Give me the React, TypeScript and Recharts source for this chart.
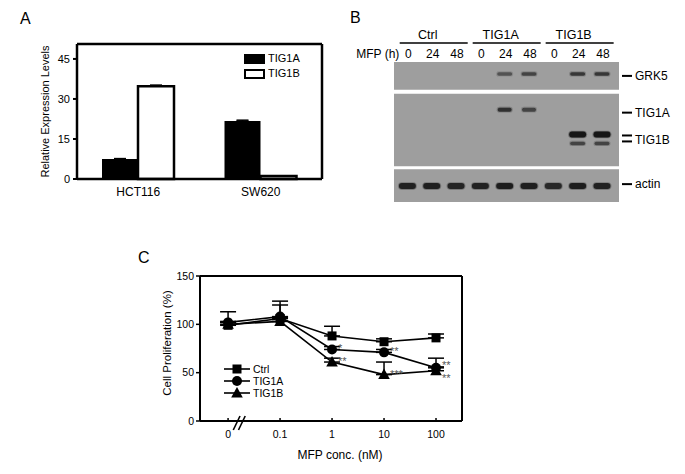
import React from 'react';
import {
  BarChart, Bar, XAxis, YAxis, ErrorBar, Legend, LineChart, Line,
  ScatterChart, Scatter, ReferenceArea, ReferenceLine, LabelList,
} from 'recharts';

const FONT = 'Arial, "Liberation Sans", Helvetica, sans-serif';

// ---------- Panel A data ----------
const cellLines = ['HCT116', 'SW620'];
const tig1aExpr = [7.5, 21.7];
const tig1aExprErr = [0.15, 0.35];
const tig1bExpr = [34.8, 1.1];
const tig1bExprErr = [0.4, 0.05];
const exprTicks = [0, 15, 30, 45];
const exprSeries = ['TIG1A', 'TIG1B'];

// ---------- Panel B data ----------
const laneNumbers = [1, 2, 3, 4, 5, 6, 7, 8, 9];
const hourLabels = ['0', '24', '48', '0', '24', '48', '0', '24', '48'];
const groupNames = ['Ctrl', 'TIG1A', 'TIG1B'];
const groupCenterLanes = [2, 5, 8];
const grk5Intensity = [0, 0, 0, 0, 0.45, 0.55, 0, 0.7, 0.7];
const tig1aIntensity = [0, 0, 0, 0, 0.75, 0.6, 0, 0, 0];
const tig1bUpperIntensity = [0, 0, 0, 0, 0, 0, 0, 1, 1];
const tig1bLowerIntensity = [0, 0, 0, 0, 0, 0, 0, 0.55, 0.55];
const actinIntensity = [0.88, 0.9, 0.86, 0.88, 0.92, 0.9, 0.82, 0.92, 0.88];
const bandRowGrk5 = 12;
const bandRowTig1a = 48;
const bandRowTig1bUpper = 73;
const bandRowTig1bLower = 82;
const bandRowActin = 125;
const blotPanelRanges = [[0, 28], [32, 105], [108, 141]];
const markerRows = [14, 51, 74, 78, 80, 123];
const markerLabels = ['GRK5', 'TIG1A', '', 'TIG1B', '', 'actin'];
const markerDash = [true, true, true, false, true, true];

// ---------- Panel C data ----------
const concLabels = ['0', '0.1', '1', '10', '100'];
const concIndex = [0, 1, 2, 3, 4];
const ctrlProlif = [99, 106, 88, 82, 86];
const ctrlProlifErr = [3, 14, 10, 3, 4];
const tig1aProlif = [102, 108, 74, 71, 55];
const tig1aProlifErr = [11, 16, 3, 3, 10];
const tig1bProlif = [100, 103, 61, 48, 52];
const tig1bProlifErr = [3, 4, 4, 13, 4];
const tig1aSig = ['', '', '*', '**', '**'];
const tig1bSig = ['', '', '**', '***', '**'];
const prolifTicks = [0, 50, 100, 150];
const prolifSeries = ['Ctrl', 'TIG1A', 'TIG1B'];

// ---------- built tables ----------
const exprData = cellLines.map((c, i) => ({
  cat: c,
  a: tig1aExpr[i],
  aErr: [0, tig1aExprErr[i]],
  b: tig1bExpr[i],
  bErr: [0, tig1bExprErr[i]],
}));

const bandData = (vals: number[], row: number) =>
  laneNumbers.map((l, i) => ({ lane: l, row, v: vals[i] })).filter((d) => d.v > 0);

const prolifData = concIndex.map((x, i) => ({
  i: x,
  ctrl: ctrlProlif[i],
  ctrlE: [0, ctrlProlifErr[i]],
  a: tig1aProlif[i],
  aE: [0, tig1aProlifErr[i]],
  aSig: tig1aSig[i],
  b: tig1bProlif[i],
  bE: [0, tig1bProlifErr[i]],
  bSig: tig1bSig[i],
}));

// ---------- helpers ----------
const LegendA = () => (
  <div style={{ fontFamily: FONT, fontSize: 11, lineHeight: '15px' }}>
    {exprSeries.map((s, i) => (
      <div key={s} style={{ display: 'flex', alignItems: 'center', height: 15 }}>
        <div
          style={{
            width: 21,
            height: 10,
            boxSizing: 'border-box',
            background: i === 0 ? '#000' : '#fff',
            border: '2px solid #000',
            marginRight: 3,
          }}
        />
        <span>{s}</span>
      </div>
    ))}
  </div>
);

const markerShape = (k: number, cx: number, cy: number) => {
  if (k === 0) return <rect x={cx - 4.5} y={cy - 4.5} width={9} height={9} fill="#000" />;
  if (k === 1) return <circle cx={cx} cy={cy} r={5} fill="#000" />;
  return <polygon points={`${cx},${cy - 6} ${cx + 5.8},${cy + 4.5} ${cx - 5.8},${cy + 4.5}`} fill="#000" />;
};

const LegendC = () => (
  <div style={{ fontFamily: FONT, fontSize: 10.5 }}>
    {prolifSeries.map((s, k) => (
      <div key={s} style={{ display: 'flex', alignItems: 'center', height: 12 }}>
        <svg width={26} height={12} style={{ marginRight: 3 }}>
          <line x1={0} x2={26} y1={6} y2={6} stroke="#000" strokeWidth={1.6} />
          {markerShape(k, 13, 6)}
        </svg>
        <span>{s}</span>
      </div>
    ))}
  </div>
);

const makeDot = (k: number) => (p: any) => (
  <g key={`d${k}-${p.index}`}>{markerShape(k, p.cx, p.cy)}</g>
);

// significance labels: nudge apart when the two treated series sit close together
const makeSigLabel = (series: 'a' | 'b') => (p: any) => {
  if (!p.value) return null;
  const i = p.index;
  const close = Math.abs(tig1aProlif[i] - tig1bProlif[i]) < 8;
  let dy = -4;
  if (close) dy = series === 'a' ? -6 : 4;
  return (
    <text x={p.x + 6} y={p.y + dy + 7} fontSize={11} fill="#555" fontFamily={FONT}>
      {p.value}
    </text>
  );
};

const makeBand = (w: number, h: number) => (p: any) => {
  const { cx, cy, payload } = p;
  const op = payload.v;
  return (
    <g>
      <defs>
        <filter id="bandBlur" x="-30%" y="-100%" width="160%" height="300%">
          <feGaussianBlur stdDeviation="0.7" />
        </filter>
      </defs>
      <g filter="url(#bandBlur)">
        <rect x={cx - w / 2 - 1} y={cy - h / 2 - 0.8} width={w + 2} height={h + 1.6} rx={(h + 1.6) / 2} fill="#333" opacity={op * 0.4} />
        <rect x={cx - w / 2} y={cy - h / 2} width={w} height={h} rx={h / 2} fill="#141414" opacity={op} />
      </g>
    </g>
  );
};

const LaneTick = (p: any) => {
  const { x, y, payload } = p;
  const lane = payload.value;
  const gi = groupCenterLanes.indexOf(lane);
  return (
    <g fontFamily={FONT} fill="#000">
      <text x={x + 1} y={y - 4.5} textAnchor="middle" fontSize={12}>{hourLabels[lane - 1]}</text>
      {lane === 1 && (
        <text x={x - 8} y={y - 4.5} textAnchor="end" fontSize={12}>MFP (h)</text>
      )}
      {gi >= 0 && (
        <g>
          <text x={x - 4} y={y - 23} textAnchor="middle" fontSize={12.5}>{groupNames[gi]}</text>
          <line x1={x - 32} x2={x + 36} y1={y - 19} y2={y - 19} stroke="#000" strokeWidth={1.5} />
        </g>
      )}
    </g>
  );
};

const MarkerTick = (p: any) => {
  const { x, y, payload } = p;
  const idx = markerRows.indexOf(payload.value);
  if (idx < 0) return null;
  return (
    <g fontFamily={FONT}>
      {markerDash[idx] && <line x1={x + 3} x2={x + 13} y1={y} y2={y} stroke="#000" strokeWidth={2} />}
      {markerLabels[idx] && (
        <text x={x + 16} y={y} dy="0.35em" fontSize={12} fill="#000">{markerLabels[idx]}</text>
      )}
    </g>
  );
};

const panelLabel = (t: string, left: number, top: number) => (
  <div style={{ position: 'absolute', left, top, fontSize: 16, fontFamily: FONT, lineHeight: '16px' }}>{t}</div>
);

export default function App() {
  return (
    <div style={{ position: 'absolute', left: 0, top: 0, width: 685, height: 474, background: '#fff', fontFamily: FONT, overflow: 'hidden' }}>
      {panelLabel('A', 20, 11)}
      {panelLabel('B', 350, 10)}
      {panelLabel('C', 138, 250)}

      {/* Panel A */}
      <div style={{ position: 'absolute', left: 0, top: 0 }}>
        <BarChart width={340} height={225} data={exprData} margin={{ top: 43, right: 17, left: 47, bottom: 16 }} barGap={0} barSize={36}>
          <XAxis dataKey="cat" height={30} tickLine={false} interval={0}
            axisLine={{ stroke: '#000', strokeWidth: 2.5 }}
            tick={{ fill: '#000', fontSize: 12 }} />
          <XAxis xAxisId="top" dataKey="cat" orientation="top" height={1} tick={false} tickLine={false}
            axisLine={{ stroke: '#000', strokeWidth: 2.5 }} />
          <YAxis width={30} domain={[0, 50.6]} ticks={exprTicks} interval={0} tickSize={4} tickMargin={3}
            axisLine={{ stroke: '#000', strokeWidth: 2.5 }} tickLine={{ stroke: '#000', strokeWidth: 2 }}
            tick={{ fill: '#000', fontSize: 11 }}
            label={() => (
              <text x={45} y={111.5} transform="rotate(-90 45 111.5)" textAnchor="middle" dominantBaseline="central" fontSize={11} fill="#000" fontFamily={FONT}>
                Relative Expression Levels
              </text>
            )} />
          <YAxis yAxisId="r" orientation="right" width={1} domain={[0, 50.6]} tick={false} tickLine={false}
            axisLine={{ stroke: '#000', strokeWidth: 2.5 }} />
          <Legend layout="vertical" align="center" verticalAlign="middle" content={LegendA}
            wrapperStyle={{ left: 244, top: 51, width: 80, height: 30 }} />
          <Bar dataKey="a" name="TIG1A" fill="#000" isAnimationActive={false}>
            <ErrorBar dataKey="aErr" width={6} stroke="#000" strokeWidth={1.5} />
          </Bar>
          <Bar dataKey="b" name="TIG1B" fill="#fff" stroke="#000" strokeWidth={2.5} isAnimationActive={false}>
            <ErrorBar dataKey="bErr" width={6} stroke="#000" strokeWidth={1.5} />
          </Bar>
        </BarChart>
      </div>

      {/* Panel B */}
      <div style={{ position: 'absolute', left: 340, top: 0 }}>
        <ScatterChart width={345} height={225} margin={{ top: 0, right: 0, left: 54, bottom: 23 }}>
          <XAxis type="number" dataKey="lane" orientation="top" domain={[0.45, 9.7]} ticks={laneNumbers} interval={0}
            height={62} tickSize={0} tickMargin={0} axisLine={false} tickLine={false} tick={LaneTick} />
          <YAxis type="number" dataKey="row" orientation="right" domain={[0, 141]} reversed ticks={markerRows} interval={0}
            width={66} tickSize={0} tickMargin={0} axisLine={false} tickLine={false} tick={MarkerTick} />
          {blotPanelRanges.map((r, i) => (
            <ReferenceArea key={i} x1={0.45} x2={9.7} y1={r[0]} y2={r[1]} fill="#9e9e9e" fillOpacity={1} stroke="none" ifOverflow="visible" />
          ))}
          <Scatter data={bandData(grk5Intensity, bandRowGrk5)} shape={makeBand(15, 3.5)} isAnimationActive={false} />
          <Scatter data={bandData(tig1aIntensity, bandRowTig1a)} shape={makeBand(14, 4)} isAnimationActive={false} />
          <Scatter data={bandData(tig1bUpperIntensity, bandRowTig1bUpper)} shape={makeBand(17, 6)} isAnimationActive={false} />
          <Scatter data={bandData(tig1bLowerIntensity, bandRowTig1bLower)} shape={makeBand(15, 3.5)} isAnimationActive={false} />
          <Scatter data={bandData(actinIntensity, bandRowActin)} shape={makeBand(17, 6)} isAnimationActive={false} />
        </ScatterChart>
      </div>

      {/* Panel C */}
      <div style={{ position: 'absolute', left: 130, top: 255 }}>
        <LineChart width={360} height={219} data={prolifData} margin={{ top: 20, right: 27, left: 30, bottom: 3 }}>
          <XAxis type="number" dataKey="i" domain={[-0.54, 4.5]} ticks={concIndex} interval={0}
            tickFormatter={(v: number) => concLabels[v]} height={50} tickSize={-3} tickMargin={13}
            axisLine={{ stroke: '#000', strokeWidth: 2 }} tickLine={{ stroke: '#000', strokeWidth: 1.5 }}
            tick={{ fill: '#000', fontSize: 10.5 }}
            label={() => (
              <text x={210} y={204} textAnchor="middle" fontSize={12} fill="#000" fontFamily={FONT}>MFP conc. (nM)</text>
            )} />
          <XAxis xAxisId="top" type="number" orientation="top" domain={[-0.54, 4.5]} height={1} tick={false} tickLine={false}
            axisLine={{ stroke: '#000', strokeWidth: 2 }} />
          <YAxis width={40} domain={[0, 150]} ticks={prolifTicks} interval={0} tickSize={4} tickMargin={2}
            axisLine={{ stroke: '#000', strokeWidth: 2 }} tickLine={{ stroke: '#000', strokeWidth: 1.5 }}
            tick={{ fill: '#000', fontSize: 10.5 }}
            label={() => (
              <text x={37} y={88} transform="rotate(-90 37 88)" textAnchor="middle" dominantBaseline="central" fontSize={11.5} fill="#000" fontFamily={FONT}>
                Cell Proliferation (%)
              </text>
            )} />
          <YAxis yAxisId="right" orientation="right" width={1} domain={[0, 150]} tick={false} tickLine={false}
            axisLine={{ stroke: '#000', strokeWidth: 2 }} />
          <ReferenceLine segment={[{ x: 0.17, y: 0 }, { x: 0.29, y: 0 }]} stroke="#fff" strokeWidth={4} ifOverflow="visible" />
          <ReferenceLine segment={[{ x: 0.1, y: -9.3 }, { x: 0.23, y: 5.2 }]} stroke="#000" strokeWidth={1.6} ifOverflow="visible" />
          <ReferenceLine segment={[{ x: 0.2, y: -9.3 }, { x: 0.33, y: 5.2 }]} stroke="#000" strokeWidth={1.6} ifOverflow="visible" />
          <Legend layout="vertical" align="center" verticalAlign="middle" content={LegendC}
            wrapperStyle={{ left: 94, top: 108, width: 70, height: 36 }} />
          <Line type="linear" dataKey="ctrl" name="Ctrl" stroke="#000" strokeWidth={1.6} dot={makeDot(0)} isAnimationActive={false}>
            <ErrorBar dataKey="ctrlE" width={8} stroke="#000" strokeWidth={1.5} direction="y" />
          </Line>
          <Line type="linear" dataKey="a" name="TIG1A" stroke="#000" strokeWidth={1.6} dot={makeDot(1)} isAnimationActive={false}>
            <ErrorBar dataKey="aE" width={8} stroke="#000" strokeWidth={1.5} direction="y" />
            <LabelList dataKey="aSig" content={makeSigLabel('a')} />
          </Line>
          <Line type="linear" dataKey="b" name="TIG1B" stroke="#000" strokeWidth={1.6} dot={makeDot(2)} isAnimationActive={false}>
            <ErrorBar dataKey="bE" width={8} stroke="#000" strokeWidth={1.5} direction="y" />
            <LabelList dataKey="bSig" content={makeSigLabel('b')} />
          </Line>
        </LineChart>
      </div>
    </div>
  );
}
